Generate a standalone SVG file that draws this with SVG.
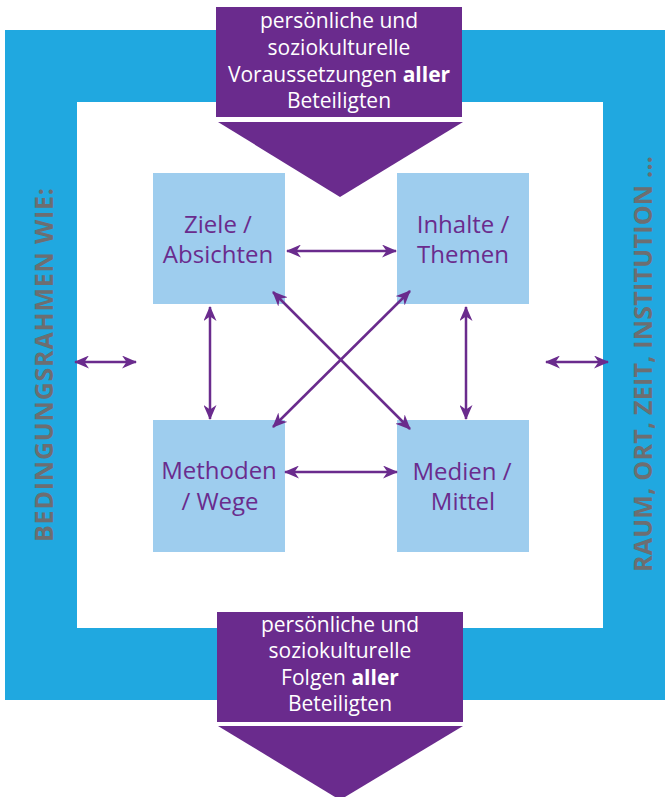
<svg xmlns="http://www.w3.org/2000/svg" width="665" height="797" viewBox="0 0 665 797">
<style>
.frame{fill:#20a8e0}
.box{fill:#9ecdee}
.purple{fill:#6a2b8d}
.ntext{font-family:"Open Sans","Liberation Sans",sans-serif;font-size:24px;fill:#6a2b8d;text-anchor:middle}
.wtext{font-family:"Open Sans","Liberation Sans",sans-serif;font-size:21px;fill:#ffffff;text-anchor:middle}
.side{font-family:"Open Sans","Liberation Sans",sans-serif;font-size:25px;font-weight:bold;fill:#6d6e71;text-anchor:middle;letter-spacing:1px}
.conn line{stroke:#6a2b8d;stroke-width:2.5;marker-start:url(#ah);marker-end:url(#ah)}
</style>
<defs>
<marker id="ah" markerUnits="userSpaceOnUse" markerWidth="15" markerHeight="13" refX="14" refY="6.5" orient="auto-start-reverse" viewBox="0 0 15 13">
<path d="M0,0 L15,6.5 L0,13 L4.5,6.5 z" fill="#6a2b8d"/>
</marker>
</defs>
<rect width="665" height="797" fill="#ffffff"/>
<g id="frame">
<path class="frame" d="M5,30 H665 V700 H5 Z M77,102 V628 H603 V102 Z" fill-rule="evenodd"/>
<text class="side" transform="translate(53,364.5) rotate(-90)" textLength="355" lengthAdjust="spacing">BEDINGUNGSRAHMEN WIE:</text>
<text class="side" transform="translate(652,363.5) rotate(-90)" textLength="417" lengthAdjust="spacing">RAUM, ORT, ZEIT, INSTITUTION ...</text>
</g>
<g id="top-input">
<rect class="purple" x="216" y="7" width="246" height="110"/>
<polygon class="purple" points="218,122 463,122 340,197"/>
<text class="wtext" x="339" y="28">persönliche und</text>
<text class="wtext" x="339" y="55">soziokulturelle</text>
<text class="wtext" x="339" y="82">Voraussetzungen <tspan font-weight="bold">aller</tspan></text>
<text class="wtext" x="339" y="108">Beteiligten</text>
</g>
<g id="bottom-output">
<rect class="purple" x="217" y="612" width="246" height="110"/>
<polygon class="purple" points="218,726 463,726 340,800"/>
<text class="wtext" x="340" y="632">persönliche und</text>
<text class="wtext" x="340" y="658">soziokulturelle</text>
<text class="wtext" x="340" y="685">Folgen <tspan font-weight="bold">aller</tspan></text>
<text class="wtext" x="340" y="711">Beteiligten</text>
</g>
<g id="ziele">
<rect class="box" x="153" y="173" width="132" height="131"/>
<text class="ntext" x="218" y="233">Ziele /</text>
<text class="ntext" x="218" y="263">Absichten</text>
</g>
<g id="inhalte">
<rect class="box" x="397" y="173" width="132" height="131"/>
<text class="ntext" x="463" y="233">Inhalte /</text>
<text class="ntext" x="463" y="263">Themen</text>
</g>
<g id="methoden">
<rect class="box" x="153" y="420" width="132" height="132"/>
<text class="ntext" x="219" y="479">Methoden</text>
<text class="ntext" x="220" y="510">/ Wege</text>
</g>
<g id="medien">
<rect class="box" x="397" y="420" width="132" height="132"/>
<text class="ntext" x="462" y="480">Medien /</text>
<text class="ntext" x="463" y="510">Mittel</text>
</g>
<g id="connectors" class="conn">
<line x1="287" y1="251" x2="396" y2="251"/>
<line x1="285" y1="472" x2="397" y2="472"/>
<line x1="210" y1="307" x2="210" y2="419"/>
<line x1="466" y1="307" x2="466" y2="419"/>
<line x1="273" y1="292" x2="410" y2="429"/>
<line x1="410" y1="291" x2="273" y2="427"/>
<line x1="75" y1="362" x2="136" y2="362"/>
<line x1="546" y1="362" x2="608" y2="362"/>
</g>
</svg>
